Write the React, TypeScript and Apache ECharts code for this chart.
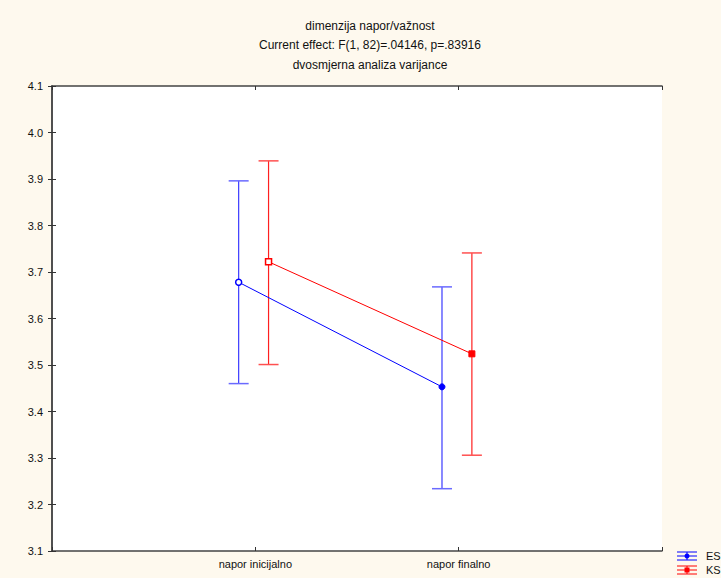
import React, { useEffect, useRef } from "react";
import * as echarts from "echarts";

const categories = ["napor inicijalno", "napor finalno"];
const seriesNames = ["ES", "KS"];
const esMean = [3.678, 3.453];
const esLow = [3.46, 3.234];
const esHigh = [3.896, 3.668];
const ksMean = [3.722, 3.524];
const ksLow = [3.501, 3.306];
const ksHigh = [3.939, 3.741];
const titleLines = [
  "dimenzija napor/važnost",
  "Current effect: F(1, 82)=.04146, p=.83916",
  "dvosmjerna analiza varijance",
];

const ES_OFFSET = -0.082;
const KS_OFFSET = 0.065;
const BLUE = "#0000ff";
const RED = "#ff0000";
const FONT = "Liberation Sans";

function errorBar(color: string, capColor: string) {
  return (params: any, api: any) => {
    const x = api.value(0);
    const lo = api.coord([x, api.value(1)]);
    const hi = api.coord([x, api.value(2)]);
    const w = 10;
    const st = { stroke: color, lineWidth: 1.2 };
    const cst = { stroke: capColor, lineWidth: 1.5 };
    return {
      type: "group",
      children: [
        { type: "line", shape: { x1: lo[0], y1: lo[1], x2: hi[0], y2: hi[1] }, style: st },
        { type: "line", shape: { x1: hi[0] - w, y1: hi[1], x2: hi[0] + w, y2: hi[1] }, style: cst },
        { type: "line", shape: { x1: lo[0] - w, y1: lo[1], x2: lo[0] + w, y2: lo[1] }, style: cst },
      ],
    };
  };
}

export default function App() {
  const ref = useRef<HTMLDivElement>(null);
  useEffect(() => {
    document.body.style.margin = "0";
    const chart = echarts.init(ref.current!, null, { renderer: "svg" });
    const esPts = esMean.map((v, i) => [i + 1 + ES_OFFSET, v]);
    const ksPts = ksMean.map((v, i) => [i + 1 + KS_OFFSET, v]);
    const esBars = esMean.map((_, i) => [i + 1 + ES_OFFSET, esLow[i], esHigh[i]]);
    const ksBars = ksMean.map((_, i) => [i + 1 + KS_OFFSET, ksLow[i], ksHigh[i]]);
    const axisLine = { show: true, lineStyle: { color: "#444", width: 1.5 } };
    const tick = { show: true, inside: true, length: 4, lineStyle: { color: "#333" } };
    const titleY = [26, 45, 65];
    chart.setOption({
      animation: false,
      backgroundColor: "#fef9ee",
      grid: {
        left: 52,
        top: 86,
        width: 610,
        height: 465,
        show: true,
        backgroundColor: "#ffffff",
        borderWidth: 0,
      },
      xAxis: [
        {
          type: "value",
          min: 0,
          max: 3,
          interval: 1,
          axisLine,
          axisTick: tick,
          splitLine: { show: false },
          axisLabel: {
            margin: 7,
            fontFamily: FONT,
            fontSize: 11,
            color: "#111",
            showMinLabel: true,
            showMaxLabel: true,
            formatter: (v: number) => (v >= 1 && v <= categories.length ? categories[v - 1] : ""),
          },
        },
        {
          type: "value",
          position: "top",
          min: 0,
          max: 3,
          interval: 1,
          axisLine,
          axisTick: tick,
          axisLabel: { show: false },
          splitLine: { show: false },
        },
      ],
      yAxis: [
        {
          type: "value",
          min: 3.1,
          max: 4.1,
          interval: 0.1,
          axisLine,
          axisTick: tick,
          splitLine: { show: false },
          axisLabel: {
            margin: 9,
            fontFamily: FONT,
            fontSize: 11,
            color: "#111",
            formatter: (v: number) => v.toFixed(1),
          },
        },
        {
          type: "value",
          position: "right",
          min: 3.1,
          max: 4.1,
          interval: 0.1,
          axisLine,
          axisTick: tick,
          axisLabel: { show: false },
          splitLine: { show: false },
        },
      ],
      series: [
        {
          name: seriesNames[0],
          type: "custom",
          renderItem: errorBar("#3a3aff", "#6a6aff"),
          data: esBars,
          z: 2,
        },
        {
          name: seriesNames[1],
          type: "custom",
          renderItem: errorBar("#ff2020", "#ff5050"),
          data: ksBars,
          z: 2,
        },
        {
          name: seriesNames[0],
          type: "line",
          data: esPts.map((p, i) => ({
            value: p,
            itemStyle: i === 0 ? { color: "#ffffff", borderColor: BLUE, borderWidth: 1.5 } : { color: BLUE, borderColor: BLUE },
          })),
          symbol: "circle",
          symbolSize: 6,
          lineStyle: { color: BLUE, width: 1 },
          itemStyle: { color: BLUE },
          z: 3,
        },
        {
          name: seriesNames[1],
          type: "line",
          data: ksPts.map((p, i) => ({
            value: p,
            itemStyle: i === 0 ? { color: "#ffffff", borderColor: RED, borderWidth: 1.5 } : { color: RED, borderColor: RED },
          })),
          symbol: "rect",
          symbolSize: 6,
          lineStyle: { color: RED, width: 1 },
          itemStyle: { color: RED },
          z: 3,
        },
      ],
      graphic: [
        ...titleLines.map((t, i) => ({
          type: "text",
          x: 370,
          y: titleY[i],
          style: {
            text: t,
            fontFamily: FONT,
            fontSize: 12,
            fill: "#111",
            textAlign: "center",
            textVerticalAlign: "middle",
          },
        })),
        { type: "line", shape: { x1: 677, y1: 552, x2: 697, y2: 552 }, style: { stroke: BLUE, lineWidth: 1 } },
        { type: "line", shape: { x1: 677, y1: 556, x2: 697, y2: 556 }, style: { stroke: BLUE, lineWidth: 1 } },
        { type: "line", shape: { x1: 677, y1: 560, x2: 697, y2: 560 }, style: { stroke: BLUE, lineWidth: 1 } },
        { type: "line", shape: { x1: 687, y1: 552, x2: 687, y2: 560 }, style: { stroke: BLUE, lineWidth: 1 } },
        { type: "circle", shape: { cx: 687, cy: 556, r: 2.5 }, style: { fill: BLUE } },
        { type: "text", left: 706, top: 550, style: { text: seriesNames[0], fontFamily: FONT, fontSize: 11, fill: "#111" } },
        { type: "line", shape: { x1: 677, y1: 566, x2: 697, y2: 566 }, style: { stroke: RED, lineWidth: 1 } },
        { type: "line", shape: { x1: 677, y1: 570, x2: 697, y2: 570 }, style: { stroke: RED, lineWidth: 1 } },
        { type: "line", shape: { x1: 677, y1: 574, x2: 697, y2: 574 }, style: { stroke: RED, lineWidth: 1 } },
        { type: "line", shape: { x1: 687, y1: 566, x2: 687, y2: 574 }, style: { stroke: RED, lineWidth: 1 } },
        { type: "rect", shape: { x: 684.5, y: 567.5, width: 5, height: 5 }, style: { fill: RED } },
        { type: "text", left: 706, top: 564, style: { text: seriesNames[1], fontFamily: FONT, fontSize: 11, fill: "#111" } },
      ],
    });
    return () => chart.dispose();
  }, []);
  return <div ref={ref} style={{ position: "absolute", left: 0, top: 0, width: 721, height: 578 }} />;
}
